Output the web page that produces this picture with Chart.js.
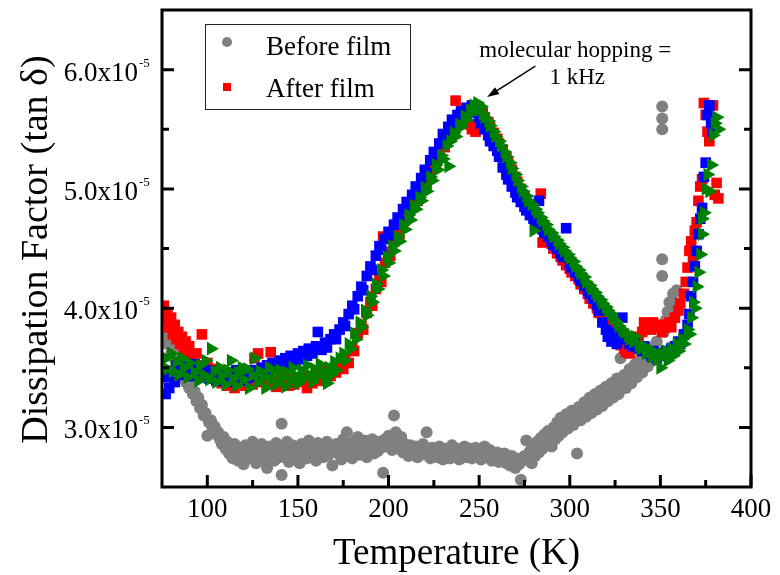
<!DOCTYPE html>
<html>
<head>
<meta charset="utf-8">
<script src="https://cdn.jsdelivr.net/npm/chart.js@4.4.0/dist/chart.umd.min.js"></script>
<style>
  html, body { margin: 0; padding: 0; background: #fff; }
</style>
</head>
<body>
<canvas id="myChart" width="780" height="575"></canvas>
<script>
// tan delta values are in units of 1e-5, temperatures in K
var xTicks = [100, 150, 200, 250, 300, 350, 400];
var xMinor = [125, 175, 225, 275, 325, 375];
var yTicks = [3, 4, 5, 6];
var yMinor = [3.5, 4.5, 5.5];
var legendLabels = ['Before film', 'After film'];
var note = ['molecular hopping =', '1 kHz'];

// gray circles
var beforeFilm = [
  [76,3.86],[77,3.78],[78,3.70],[79,3.74],[80,3.62],[81,3.66],[82,3.57],[83,3.52],[84,3.55],[85,3.47],
  [86,3.44],[87,3.47],[88,3.38],[89,3.40],[90,3.33],[91,3.36],[92,3.28],[93,3.30],[94,3.22],[95,3.25],
  [96,3.16],[97,3.19],[98,3.10],[99,3.12],[100,2.93],[101,3.04],[102,3.06],[103,2.99],[104,3.01],[105,2.94],
  [106,2.96],[107,2.90],[108,2.86],[109,2.92],[110,2.82],[111,2.88],[112,2.78],[113,2.84],[114,2.74],[115,2.86],
  [116,2.80],[117,2.72],[118,2.83],[119,2.77],[120,2.69],[121,2.85],[122,2.79],[123,2.74],[124,2.81],[125,2.88],
  [126,2.76],[127,2.70],[128,2.82],[129,2.78],[130,2.86],[131,2.73],[132,2.80],[133,2.66],[134,2.84],[135,2.77],
  [136,2.81],[137,2.72],[138,2.87],[139,2.79],[140,2.75],[141,3.03],[141,2.60],[142,2.82],[143,2.76],[144,2.88],
  [145,2.71],[146,2.80],[147,2.85],[148,2.74],[149,2.79],[150,2.83],[151,2.70],[152,2.86],[153,2.78],[154,2.82],
  [155,2.74],[156,2.89],[157,2.80],[158,2.76],[159,2.84],[160,2.72],[161,2.87],[162,2.79],[163,2.83],[164,2.75],
  [165,2.81],[166,2.88],[167,2.77],[168,2.84],[169,2.68],[170,2.80],[171,2.86],[172,2.78],[173,2.83],[174,2.73],
  [175,2.90],[176,2.82],[177,2.96],[178,2.79],[179,2.85],[180,2.74],[181,2.88],[182,2.81],[183,2.92],[184,2.77],
  [185,2.84],[186,2.80],[187,2.89],[188,2.75],[189,2.86],[190,2.82],[191,2.90],[192,2.78],[193,2.85],[194,2.80],
  [195,2.88],[196,2.83],[197,2.62],[198,2.90],[199,2.84],[200,2.93],[201,2.86],[202,2.81],[203,3.10],[204,2.96],
  [205,2.88],[206,2.83],[207,2.92],[208,2.79],[209,2.86],[210,2.82],[211,2.76],[212,2.85],[213,2.80],[214,2.78],
  [215,2.84],[216,2.75],[217,2.81],[218,2.77],[219,2.86],[220,2.80],[221,2.96],[222,2.79],[223,2.74],[224,2.83],
  [225,2.77],[226,2.81],[227,2.75],[228,2.84],[229,2.78],[230,2.73],[231,2.82],[232,2.77],[233,2.80],[234,2.74],
  [235,2.85],[236,2.79],[237,2.76],[238,2.82],[239,2.73],[240,2.80],[241,2.77],[242,2.84],[243,2.75],[244,2.79],
  [245,2.82],[246,2.74],[247,2.78],[248,2.83],[249,2.76],[250,2.80],[251,2.73],[252,2.79],[253,2.84],[254,2.75],
  [255,2.78],[256,2.81],[257,2.72],[258,2.77],[259,2.74],[260,2.79],[261,2.71],[262,2.76],[263,2.73],[264,2.78],
  [265,2.70],[266,2.74],[267,2.68],[268,2.76],[269,2.71],[270,2.66],[271,2.74],[272,2.69],[273,2.56],[274,2.72],
  [275,2.76],[276,2.89],[277,2.74],[278,2.80],[279,2.70],[280,2.84],[281,2.76],[282,2.88],[283,2.79],[284,2.91],
  [285,2.82],[286,2.94],[287,2.85],[288,2.97],[289,2.88],[290,2.84],[291,3.00],[292,2.90],[293,3.04],[294,2.93],
  [295,3.08],[296,2.96],[297,3.02],[298,3.11],[299,2.99],[300,3.07],[301,3.14],[302,3.02],[303,3.10],[304,2.78],
  [305,3.17],[306,3.06],[307,3.13],[308,3.21],[309,3.09],[310,3.16],[311,3.25],[312,3.12],[313,3.20],[314,3.28],
  [315,3.15],[316,3.23],[317,3.31],[318,3.18],[319,3.26],[320,3.34],[321,3.22],[322,3.29],[323,3.37],[324,3.25],
  [325,3.32],[326,3.41],[327,3.28],[328,3.58],[329,3.35],[330,3.44],[331,3.33],[332,3.40],[333,3.49],[334,3.37],
  [335,3.45],[336,3.53],[337,3.42],[338,3.50],[339,3.58],[340,3.46],[341,3.55],[342,3.62],[343,3.51],[344,3.60],
  [345,3.67],[346,3.56],[347,3.64],[348,3.72],[349,3.61],[351,5.69],[351,5.59],[351,5.50],[351,4.41],[351,4.27],
  [352,3.80],[353,3.90],[354,3.97],[355,4.05],[356,3.93],[357,4.12],[358,4.02],[359,4.15]
];

// red squares
var afterFilm = [
  [76,4.02],[77,3.90],[78,3.96],[79,3.84],[80,3.92],[81,3.78],[82,3.86],[83,3.74],[84,3.80],[85,3.70],
  [86,3.76],[87,3.66],[88,3.72],[89,3.62],[90,3.68],[92,3.58],[94,3.62],[95,3.52],[97,3.78],[98,3.48],
  [100,3.54],[101,3.44],[103,3.49],[105,3.40],[106,3.46],[108,3.37],[110,3.42],[111,3.35],[113,3.40],[115,3.33],
  [116,3.44],[118,3.37],[120,3.42],[121,3.35],[123,3.40],[125,3.36],[126,3.58],[128,3.62],[130,3.38],[131,3.42],
  [133,3.36],[135,3.63],[136,3.40],[138,3.34],[140,3.41],[141,3.37],[143,3.43],[145,3.35],[146,3.40],[148,3.36],
  [150,3.42],[151,3.38],[153,3.44],[155,3.33],[156,3.40],[158,3.37],[160,3.43],[161,3.39],[163,3.45],[165,3.41],
  [166,3.47],[168,3.43],[170,3.50],[171,3.46],[173,3.53],[175,3.49],[176,3.57],[178,3.54],[180,3.68],[181,3.64],
  [183,3.79],[185,3.86],[186,3.82],[188,3.96],[190,4.05],[191,4.02],[193,4.16],[195,4.26],[196,4.22],[197,4.60],
  [198,4.38],[200,4.47],[201,4.44],[203,4.58],[205,4.65],[206,4.62],[208,4.72],[210,4.80],[211,4.77],[213,4.86],
  [215,4.93],[216,4.90],[218,5.00],[220,5.07],[221,5.04],[223,5.14],[225,5.22],[226,5.19],[228,5.30],[230,5.38],
  [231,5.35],[233,5.44],[235,5.50],[236,5.48],[237,5.74],[238,5.55],[240,5.58],[241,5.55],[243,5.60],[245,5.54],
  [246,5.50],[248,5.48],[249,5.52],[250,5.60],[252,5.64],[253,5.60],[255,5.56],[256,5.52],[258,5.47],[260,5.42],
  [261,5.38],[263,5.33],[265,5.27],[266,5.23],[268,5.16],[270,5.10],[271,5.06],[273,5.00],[275,4.94],[276,4.90],
  [278,4.84],[280,4.79],[281,4.75],[283,4.70],[284,4.96],[285,4.55],[286,4.62],[288,4.58],[290,4.54],[291,4.50],
  [293,4.46],[295,4.43],[296,4.40],[298,4.36],[300,4.33],[301,4.30],[303,4.27],[305,4.24],[306,4.20],[308,4.16],
  [310,4.12],[311,4.08],[313,4.04],[315,4.00],[316,3.96],[318,3.92],[320,3.89],[321,3.85],[323,3.81],[325,3.77],
  [326,3.73],[328,3.69],[330,3.66],[331,3.63],[333,3.62],[335,3.66],[336,3.72],[338,3.76],[340,3.80],[341,3.88],
  [343,3.86],[345,3.82],[346,3.88],[348,3.84],[350,3.86],[351,3.80],[353,3.84],[355,3.88],[356,3.84],[358,3.92],
  [360,3.98],[361,4.04],[363,4.12],[364,4.22],[365,4.34],[366,4.48],[367,4.56],[368,4.42],[369,4.65],[370,4.72],
  [371,4.90],[372,5.02],[373,5.08],[374,5.72],[375,5.62],[376,5.48],[377,5.40],[379,5.70],[380,4.95],[381,5.05],
  [382,4.92]
];

// blue squares
var afterFilm2 = [
  [77,3.28],[78,3.42],[79,3.33],[80,3.47],[82,3.38],[83,3.52],[85,3.44],[86,3.55],[88,3.47],[90,3.51],
  [91,3.43],[93,3.53],[95,3.46],[96,3.50],[98,3.42],[100,3.48],[101,3.41],[103,3.46],[105,3.39],[106,3.47],
  [108,3.42],[110,3.45],[111,3.38],[113,3.46],[115,3.41],[116,3.48],[118,3.43],[120,3.45],[121,3.39],[123,3.47],
  [125,3.42],[126,3.48],[128,3.44],[130,3.50],[131,3.45],[133,3.52],[135,3.47],[136,3.54],[138,3.50],[140,3.56],
  [141,3.51],[143,3.58],[145,3.53],[146,3.60],[148,3.56],[150,3.62],[151,3.57],[153,3.64],[155,3.60],[156,3.66],
  [158,3.62],[160,3.68],[161,3.80],[163,3.65],[165,3.71],[166,3.67],[168,3.74],[170,3.78],[171,3.74],[173,3.82],
  [175,3.88],[176,3.85],[178,3.95],[180,4.02],[181,3.99],[183,4.10],[185,4.18],[186,4.15],[188,4.27],[190,4.35],
  [191,4.32],[193,4.44],[195,4.52],[196,4.49],[198,4.58],[200,4.64],[201,4.61],[203,4.70],[205,4.76],[206,4.73],
  [208,4.83],[210,4.89],[211,4.86],[213,4.95],[215,5.02],[216,4.99],[218,5.09],[220,5.16],[221,5.13],[223,5.24],
  [225,5.31],[226,5.28],[228,5.38],[230,5.46],[231,5.43],[233,5.52],[235,5.58],[236,5.55],[238,5.62],[240,5.65],
  [241,5.62],[243,5.68],[245,5.66],[246,5.70],[248,5.64],[250,5.60],[251,5.55],[253,5.50],[255,5.45],[256,5.40],
  [258,5.36],[260,5.32],[261,5.27],[263,5.18],[265,5.12],[266,5.08],[268,5.02],[270,4.97],[271,4.93],[273,4.89],
  [275,4.85],[276,4.82],[278,4.78],[280,4.75],[281,4.72],[283,4.90],[285,4.66],[286,4.63],[288,4.60],[290,4.56],
  [291,4.53],[293,4.50],[295,4.46],[296,4.43],[298,4.67],[300,4.37],[301,4.34],[303,4.30],[305,4.26],[306,4.23],
  [308,4.19],[310,4.15],[311,4.12],[313,4.08],[315,4.03],[316,3.98],[318,3.88],[320,3.82],[321,3.76],[323,3.72],
  [325,3.80],[326,3.70],[328,3.78],[329,3.92],[331,3.74],[333,3.70],[335,3.68],[336,3.72],[338,3.66],[340,3.64],
  [341,3.68],[343,3.62],[345,3.60],[346,3.64],[348,3.58],[350,3.62],[351,3.60],[353,3.64],[355,3.62],[356,3.66],
  [358,3.68],[360,3.72],[361,3.70],[363,3.78],[365,3.86],[366,3.95],[367,4.10],[368,4.22],[369,4.35],[370,4.48],
  [371,4.62],[372,4.75],[373,4.84],[374,5.10],[375,5.22],[376,5.62],[377,5.70],[378,5.55],[379,5.48]
];

// green triangles
var afterFilm3 = [
  [77,3.58],[78,3.49],[80,3.62],[81,3.47],[83,3.55],[84,3.44],[86,3.58],[87,3.50],[89,3.42],[90,3.54],
  [93,3.46],[95,3.39],[96,3.52],[98,3.44],[99,3.56],[101,3.40],[102,3.66],[104,3.47],[105,3.38],[107,3.50],
  [108,3.43],[110,3.36],[111,3.48],[113,3.56],[114,3.41],[116,3.35],[117,3.46],[119,3.50],[120,3.40],[122,3.49],
  [123,3.33],[125,3.44],[126,3.58],[128,3.38],[129,3.47],[131,3.42],[132,3.33],[134,3.50],[135,3.40],[137,3.45],
  [138,3.36],[140,3.48],[141,3.41],[143,3.34],[144,3.46],[146,3.39],[147,3.50],[149,3.43],[150,3.37],[152,3.48],
  [153,3.41],[155,3.52],[156,3.44],[158,3.38],[159,3.49],[161,3.43],[162,3.53],[164,3.46],[165,3.40],[166,3.37],
  [167,3.50],[168,3.44],[170,3.55],[171,3.48],[173,3.58],[175,3.62],[176,3.56],[178,3.70],[179,3.66],[181,3.79],
  [182,3.74],[184,3.88],[185,3.84],[187,3.98],[188,3.94],[190,4.10],[191,4.05],[193,4.20],[194,4.16],[196,4.32],
  [197,4.27],[199,4.43],[200,4.38],[202,4.52],[203,4.48],[205,4.60],[206,4.56],[208,4.70],[209,4.66],[211,4.78],
  [212,4.74],[214,4.86],[215,4.83],[217,4.93],[218,4.90],[220,5.01],[221,4.98],[223,5.10],[224,5.07],[226,5.20],
  [227,5.16],[229,5.28],[230,5.25],[232,5.36],[233,5.19],[234,5.40],[236,5.47],[237,5.44],[239,5.54],[240,5.52],
  [242,5.61],[243,5.58],[245,5.66],[246,5.64],[247,5.70],[248,5.68],[249,5.72],[250,5.66],[251,5.69],[252,5.63],
  [253,5.60],[255,5.57],[256,5.53],[258,5.48],[259,5.44],[261,5.40],[262,5.36],[264,5.31],[265,5.27],[267,5.22],
  [268,5.17],[270,5.12],[271,5.07],[273,5.02],[274,4.98],[276,4.94],[277,4.90],[279,4.87],[280,4.65],[281,4.83],
  [282,4.80],[284,4.76],[285,4.73],[287,4.70],[288,4.66],[290,4.63],[291,4.60],[293,4.57],[294,4.54],[296,4.51],
  [297,4.48],[299,4.45],[300,4.42],[302,4.39],[303,4.35],[305,4.32],[306,4.29],[308,4.26],[309,4.22],[311,4.19],
  [312,4.16],[314,4.13],[315,4.10],[317,4.07],[318,4.04],[320,4.01],[321,3.98],[323,3.95],[324,3.91],[326,3.88],
  [327,3.85],[329,3.82],[330,3.80],[332,3.77],[333,3.74],[335,3.72],[336,3.76],[338,3.69],[339,3.66],[341,3.68],
  [342,3.62],[344,3.65],[345,3.59],[347,3.63],[348,3.57],[350,3.50],[351,3.61],[353,3.64],[354,3.56],[356,3.66],
  [357,3.60],[359,3.70],[360,3.64],[362,3.74],[363,3.70],[365,3.82],[366,3.78],[367,3.92],[368,4.05],[369,4.00],
  [370,4.18],[371,4.30],[372,4.45],[373,4.62],[373,4.75],[374,4.80],[375,5.00],[376,5.12],[377,4.98],[378,5.20],
  [379,5.45],[380,5.55],[381,5.60],[382,5.50]
];

var serif = "'Liberation Serif', 'Times New Roman', serif";

function toPoints(list) {
  return list.map(function (p) { return { x: p[0], y: p[1] }; });
}

// frame, inward ticks, tick labels, titles, legend and note
var decorations = {
  id: 'decorations',
  afterDraw: function (chart) {
    var c = chart.ctx;
    var a = chart.chartArea;
    var xs = chart.scales.x;
    var ys = chart.scales.y;
    c.save();

    c.strokeStyle = '#000';
    c.lineWidth = 3;
    c.strokeRect(a.left, a.top, a.right - a.left, a.bottom - a.top);

    c.beginPath();
    xTicks.forEach(function (v) {
      var p = xs.getPixelForValue(v);
      c.moveTo(p, a.bottom); c.lineTo(p, a.bottom - 12);
    });
    xMinor.forEach(function (v) {
      var p = xs.getPixelForValue(v);
      c.moveTo(p, a.bottom); c.lineTo(p, a.bottom - 7);
    });
    yTicks.forEach(function (v) {
      var p = ys.getPixelForValue(v);
      c.moveTo(a.left, p); c.lineTo(a.left + 12, p);
      c.moveTo(a.right, p); c.lineTo(a.right - 12, p);
    });
    yMinor.forEach(function (v) {
      var p = ys.getPixelForValue(v);
      c.moveTo(a.left, p); c.lineTo(a.left + 7, p);
      c.moveTo(a.right, p); c.lineTo(a.right - 7, p);
    });
    c.stroke();

    // y tick labels with exponent
    c.fillStyle = '#000';
    c.textBaseline = 'alphabetic';
    yTicks.forEach(function (v) {
      var p = ys.getPixelForValue(v);
      c.font = '27px ' + serif;
      c.textAlign = 'right';
      c.fillText(v.toFixed(1) + 'x10', a.left - 24, p + 11);
      c.font = '13px ' + serif;
      c.textAlign = 'left';
      c.fillText('-5', a.left - 23, p - 3);
    });

    // axis titles
    c.font = '37px ' + serif;
    c.textAlign = 'center';
    c.fillText('Temperature (K)', (a.left + a.right) / 2, 564);
    c.save();
    c.translate(47, (a.top + a.bottom) / 2 + 1);
    c.rotate(-Math.PI / 2);
    c.font = '38px ' + serif;
    c.fillText('Dissipation Factor (tan \u03b4)', 0, 0);
    c.restore();

    // legend
    var lx = a.left + 43, ly = a.top + 14;
    c.lineWidth = 1;
    c.strokeStyle = '#222';
    c.strokeRect(lx + 0.5, ly + 0.5, 205, 85);
    c.fillStyle = 'rgb(128,128,128)';
    c.beginPath();
    c.arc(lx + 22, ly + 18, 5, 0, Math.PI * 2);
    c.fill();
    c.fillStyle = 'rgb(255,0,0)';
    c.fillRect(lx + 18, ly + 59, 8, 8);
    c.fillStyle = '#000';
    c.font = '27px ' + serif;
    c.textAlign = 'left';
    c.fillText(legendLabels[0], lx + 61, ly + 31);
    c.fillText(legendLabels[1], lx + 61, ly + 73);

    // note with arrow pointing at the peak
    var tx = xs.getPixelForValue(303), ty = ys.getPixelForValue(6.11);
    c.font = '23px ' + serif;
    c.textAlign = 'center';
    c.fillText(note[0], tx, ty);
    c.fillText(note[1], tx + 2, ty + 27);
    var x0 = xs.getPixelForValue(281), y0 = ys.getPixelForValue(6.03);
    var x1 = xs.getPixelForValue(254.4), y1 = ys.getPixelForValue(5.77);
    var ang = Math.atan2(y1 - y0, x1 - x0);
    c.strokeStyle = '#000';
    c.lineWidth = 1.5;
    c.beginPath();
    c.moveTo(x0, y0);
    c.lineTo(x1 - 8 * Math.cos(ang), y1 - 8 * Math.sin(ang));
    c.stroke();
    c.beginPath();
    c.moveTo(x1, y1);
    c.lineTo(x1 - 12 * Math.cos(ang) + 4 * Math.sin(ang), y1 - 12 * Math.sin(ang) - 4 * Math.cos(ang));
    c.lineTo(x1 - 12 * Math.cos(ang) - 4 * Math.sin(ang), y1 - 12 * Math.sin(ang) + 4 * Math.cos(ang));
    c.closePath();
    c.fill();

    c.restore();
  }
};

var ctx = document.getElementById('myChart').getContext('2d');
var chart = new Chart(ctx, {
  type: 'scatter',
  data: {
    datasets: [{
      label: 'After film 3',
      data: toPoints(afterFilm3),
      backgroundColor: 'rgb(0,128,0)',
      borderWidth: 0,
      pointStyle: 'triangle',
      rotation: 90,
      pointRadius: 8,
      order: 0
    }, {
      label: 'After film 2',
      data: toPoints(afterFilm2),
      backgroundColor: 'rgb(0,0,255)',
      borderWidth: 0,
      pointStyle: 'rect',
      pointRadius: 7.5,
      order: 1
    }, {
      label: legendLabels[1],
      data: toPoints(afterFilm),
      backgroundColor: 'rgb(255,0,0)',
      borderWidth: 0,
      pointStyle: 'rect',
      pointRadius: 7.5,
      order: 2
    }, {
      label: legendLabels[0],
      data: toPoints(beforeFilm),
      backgroundColor: 'rgb(128,128,128)',
      borderWidth: 0,
      pointStyle: 'circle',
      pointRadius: 6,
      order: 3
    }]
  },
  plugins: [decorations],
  options: {
    responsive: false,
    animation: false,
    devicePixelRatio: 1,
    layout: { padding: { left: 0, right: 29, top: 10, bottom: 0 } },
    plugins: {
      legend: { display: false },
      tooltip: { enabled: false }
    },
    scales: {
      x: {
        type: 'linear',
        min: 75,
        max: 400,
        grid: { display: false, drawTicks: false, tickLength: 0 },
        border: { display: false },
        afterBuildTicks: function (s) { s.ticks = xTicks.map(function (v) { return { value: v }; }); },
        afterFit: function (s) { s.height = 88; },
        ticks: {
          padding: 7,
          color: '#000',
          font: { family: serif, size: 27 }
        }
      },
      y: {
        type: 'linear',
        min: 2.5,
        max: 6.5,
        grid: { display: false, drawTicks: false },
        border: { display: false },
        ticks: { display: false },
        afterFit: function (s) { s.width = 162; }
      }
    }
  }
});
</script>
</body>
</html>
